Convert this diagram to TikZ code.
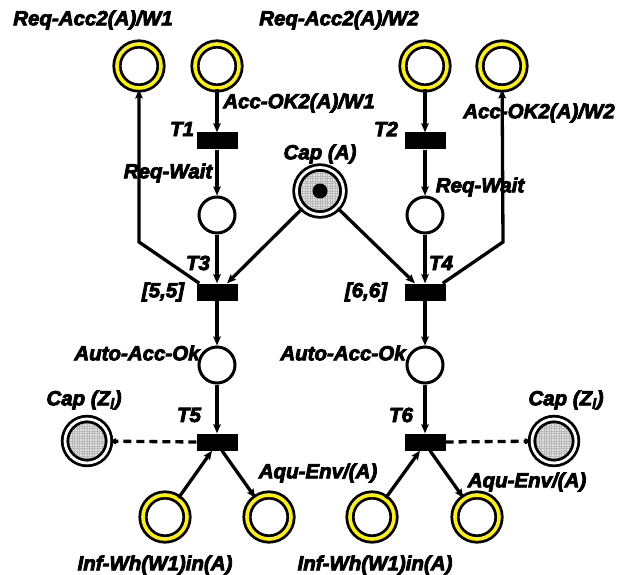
\documentclass[tikz,border=0pt]{standalone}
\usepackage{fontspec}
\setmainfont{Liberation Sans}
\newfontfamily\heavyfont{Liberation Sans Bold Italic}[FakeBold=4]
\usetikzlibrary{arrows.meta}
\begin{document}
\begin{tikzpicture}[x=1pt,y=-1pt,
  lbl/.style={font=\heavyfont\fontsize{20.5}{22}\selectfont, inner sep=0pt},
  yplace/.style={circle, draw=black, double=yellow, double distance=3.6pt,
    line width=2.8pt, minimum size=44pt, inner sep=0pt, fill=white},
  pplace/.style={circle, draw=black, line width=3pt, minimum size=36pt,
    inner sep=0pt, fill=white},
  rplace/.style={circle, draw=black, double=white, double distance=2.8pt,
    line width=2.8pt, minimum size=#1, inner sep=0pt, fill=gray!22,
    path picture={\draw[gray!55, line width=0.3pt]
      (path picture bounding box.south west) grid[step=2.5pt]
      (path picture bounding box.north east);}},
  rplace/.default=44pt,
  trans/.style={rectangle, fill=black, minimum width=41pt, minimum height=17pt,
    inner sep=0pt},
  arc/.style={line width=3.3pt, -{Stealth[length=9pt,width=7.5pt,inset=1.5pt]}},
  inhib/.style={line width=3.3pt, dash pattern=on 8pt off 5pt,
    -{Stealth[length=8pt,width=8pt,round,sep=0pt]}}]

\useasboundingbox (0,0) rectangle (629,575);

% places of the upper row
\node[yplace] (rA1) at (139,66) {};
\node[yplace] (ok1) at (217,66) {};
\node[yplace] (rA2) at (425,66) {};
\node[yplace] (ok2) at (502,66) {};

% waiting places and the shared resource
\node[pplace] (rw1) at (217,215) {};
\node[pplace] (rw2) at (425,215) {};
\node[rplace=47pt] (capA) at (320,191) {};
\node[circle, fill=black, minimum size=15pt, inner sep=0pt] (tok) at (capA) {};

% transitions
\node[trans] (T1) at (217,141) {};
\node[trans] (T2) at (425,141) {};
\node[trans] (T3) at (217,292) {};
\node[trans] (T4) at (425,292) {};
\node[trans] (T5) at (217,442) {};
\node[trans] (T6) at (425,442) {};

% acknowledgement places
\node[pplace] (ao1) at (217,365) {};
\node[pplace] (ao2) at (425,365) {};

% zone capacities
\node[rplace] (cz1) at (87,441) {};
\node[rplace] (cz2) at (554,441) {};

% places of the lower row
\node[yplace] (iw1) at (165,517) {};
\node[yplace] (ae1) at (269,517) {};
\node[yplace] (iw2) at (372,517) {};
\node[yplace] (ae2) at (477,517) {};

% bends of the side arcs
\coordinate (bendL) at (139,242);
\coordinate (bendR) at (503,242);

% labels
\node[lbl] (l1) at (93,20) {Req-Acc2(A)/W1};
\node[lbl] (l2) at (339,20) {Req-Acc2(A)/W2};
\node[lbl] (l3) at (299,103) {Acc-OK2(A)/W1};
\node[lbl] (l4) at (539,113) {Acc-OK2(A)/W2};
\node[lbl] (l5) at (182,129) {T1};
\node[lbl] (l6) at (386,129) {T2};
\node[lbl] (l7) at (320,154) {Cap (A)};
\node[lbl] (l8) at (168,173) {Req-Wait};
\node[lbl] (l9) at (480,187) {Req-Wait};
\node[lbl] (l10) at (198,263) {T3};
\node[lbl] (l11) at (441,263) {T4};
\node[lbl] (l12) at (163,292) {[5,5]};
\node[lbl] (l13) at (366,292) {[6,6]};
\node[lbl] (l14) at (137,353) {Auto-Acc-Ok};
\node[lbl] (l15) at (343,353) {Auto-Acc-Ok};
\node[lbl] (l16) at (84,400) {Cap (Z\textsubscript{l})};
\node[lbl] (l17) at (566,400) {Cap (Z\textsubscript{l})};
\node[lbl] (l18) at (189,415) {T5};
\node[lbl] (l19) at (401,415) {T6};
\node[lbl] (l20) at (318,473) {Aqu-Env/(A)};
\node[lbl] (l21) at (527,482) {Aqu-Env/(A)};
\node[lbl] (l22) at (155,565) {Inf-Wh(W1)in(A)};
\node[lbl] (l23) at (375,565) {Inf-Wh(W1)in(A)};

% left branch
\draw[arc] (ok1) -- (T1);
\draw[arc] (T1) -- (rw1);
\draw[arc] (rw1) -- (T3);
\draw[arc] (T3) -- (ao1);
\draw[arc] (ao1) -- (T5);
\draw[arc] ([xshift=3pt]T3.north west) -- (bendL) -- (rA1);
\draw[arc] (capA) -- ([xshift=10pt]T3.north);

% right branch
\draw[arc] (rA2) -- (T2);
\draw[arc] (T2) -- (rw2);
\draw[arc] (rw2) -- (T4);
\draw[arc] (T4) -- (ao2);
\draw[arc] (ao2) -- (T6);
\draw[arc] ([xshift=-3pt]T4.north east) -- (bendR) -- (ok2);
\draw[arc] (capA) -- ([xshift=-10pt]T4.north);

% release of the zones
\draw[inhib] (T5.west) -- (cz1);
\draw[inhib] (T6.east) -- (cz2);
\draw[arc] (iw1) -- ([xshift=-5pt]T5.south);
\draw[arc] ([xshift=5pt]T5.south) -- (ae1);
\draw[arc] (iw2) -- ([xshift=-5pt]T6.south);
\draw[arc] ([xshift=5pt]T6.south) -- (ae2);
\end{tikzpicture}
\end{document}
